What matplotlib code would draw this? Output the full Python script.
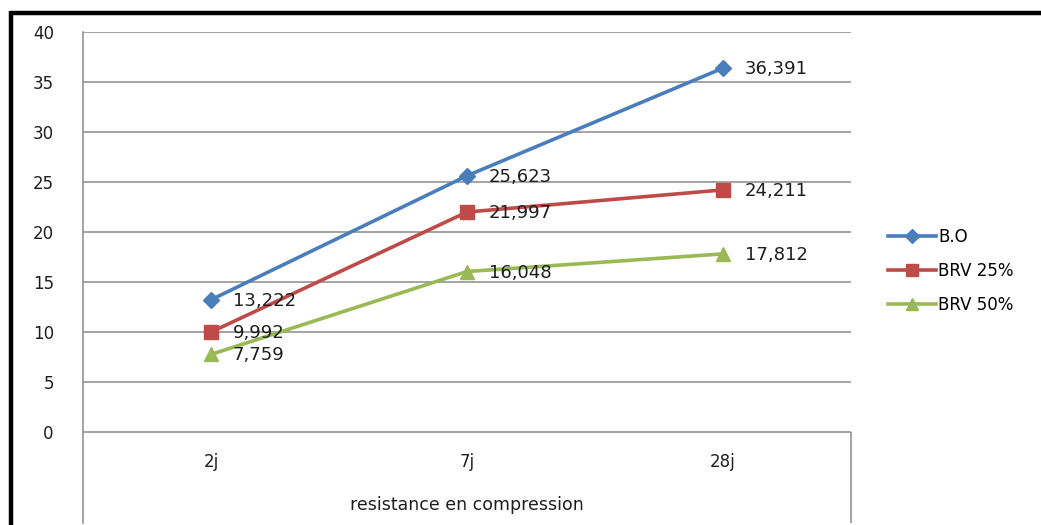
import matplotlib
matplotlib.use("Agg")
import matplotlib.pyplot as plt
from matplotlib.lines import Line2D

categories = ["2j", "7j", "28j"]
axis_title = "resistance en compression"
series_names = ["B.O", "BRV 25%", "BRV 50%"]
bo = [13.222, 25.623, 36.391]
brv25 = [9.992, 21.997, 24.211]
brv50 = [7.759, 16.048, 17.812]
value_labels = [["13,222", "25,623", "36,391"],
                ["9,992", "21,997", "24,211"],
                ["7,759", "16,048", "17,812"]]
yticks = [0, 5, 10, 15, 20, 25, 30, 35, 40]

colors = ["#4A7EBB", "#BE4B48", "#98B954"]
markers = ["D", "s", "^"]
msizes = [8, 10, 10]

W, H = 1041, 525
fig = plt.figure(figsize=(W / 100, H / 100), dpi=100)
ax = fig.add_axes([83 / W, 2 / H, 768 / W, 491 / H])
ax.set_xlim(0, 3)
ax.set_ylim(-9.1, 40)

grid_c = "#8A8A8A"
txt_c = "#1E1E1E"
for s in ["top", "right", "bottom"]:
    ax.spines[s].set_visible(False)
ax.spines["left"].set_color(grid_c)
ax.spines["left"].set_linewidth(1.1)

for yv in yticks:
    ax.axhline(yv, color=grid_c, lw=1.1, zorder=1)
ax.vlines(3, -9.1, 0, color=grid_c, lw=1.1, clip_on=False)

ax.set_yticks(yticks)
ax.set_yticklabels([str(v) for v in yticks], fontsize=12, color=txt_c)
ax.tick_params(axis="y", length=0, pad=21)
ax.set_xticks([])

xs = [i + 0.5 for i in range(len(categories))]
for i, c in enumerate(categories):
    ax.text(xs[i], -3.0, c, ha="center", va="center", fontsize=12, color=txt_c)
ax.text(1.5, -7.3, axis_title, ha="center", va="center", fontsize=12.5, color=txt_c)

all_series = [bo, brv25, brv50]
for k, vals in enumerate(all_series):
    ax.plot(xs, vals, color=colors[k], lw=2.6, marker=markers[k], ms=msizes[k],
            label=series_names[k], zorder=3, clip_on=False)
    for i, v in enumerate(vals):
        ax.annotate(value_labels[k][i], (xs[i], v), xytext=(22, -1),
                    textcoords="offset pixels", ha="left", va="center",
                    fontsize=13, color=txt_c, zorder=4)

handles = [Line2D([], [], color=colors[k], lw=2.6, marker=markers[k],
                  ms=msizes[k] * 0.9) for k in range(3)]
fig.legend(handles, series_names, loc="upper left",
           bbox_to_anchor=(888 / W, 1 - 228 / H), frameon=False,
           fontsize=12, handlelength=2.9, handletextpad=0.1, labelspacing=0.95,
           borderpad=0, borderaxespad=0)

# outer chart border (left and top)
fig.add_artist(Line2D([11 / W, 11 / W], [0, 1 - 11 / H], color="black", lw=3.2,
                      transform=fig.transFigure, solid_capstyle="butt"))
fig.add_artist(Line2D([9.5 / W, 1], [1 - 13 / H, 1 - 13 / H], color="black", lw=3.2,
                      transform=fig.transFigure, solid_capstyle="butt"))

fig.savefig("out.png", dpi=100)
